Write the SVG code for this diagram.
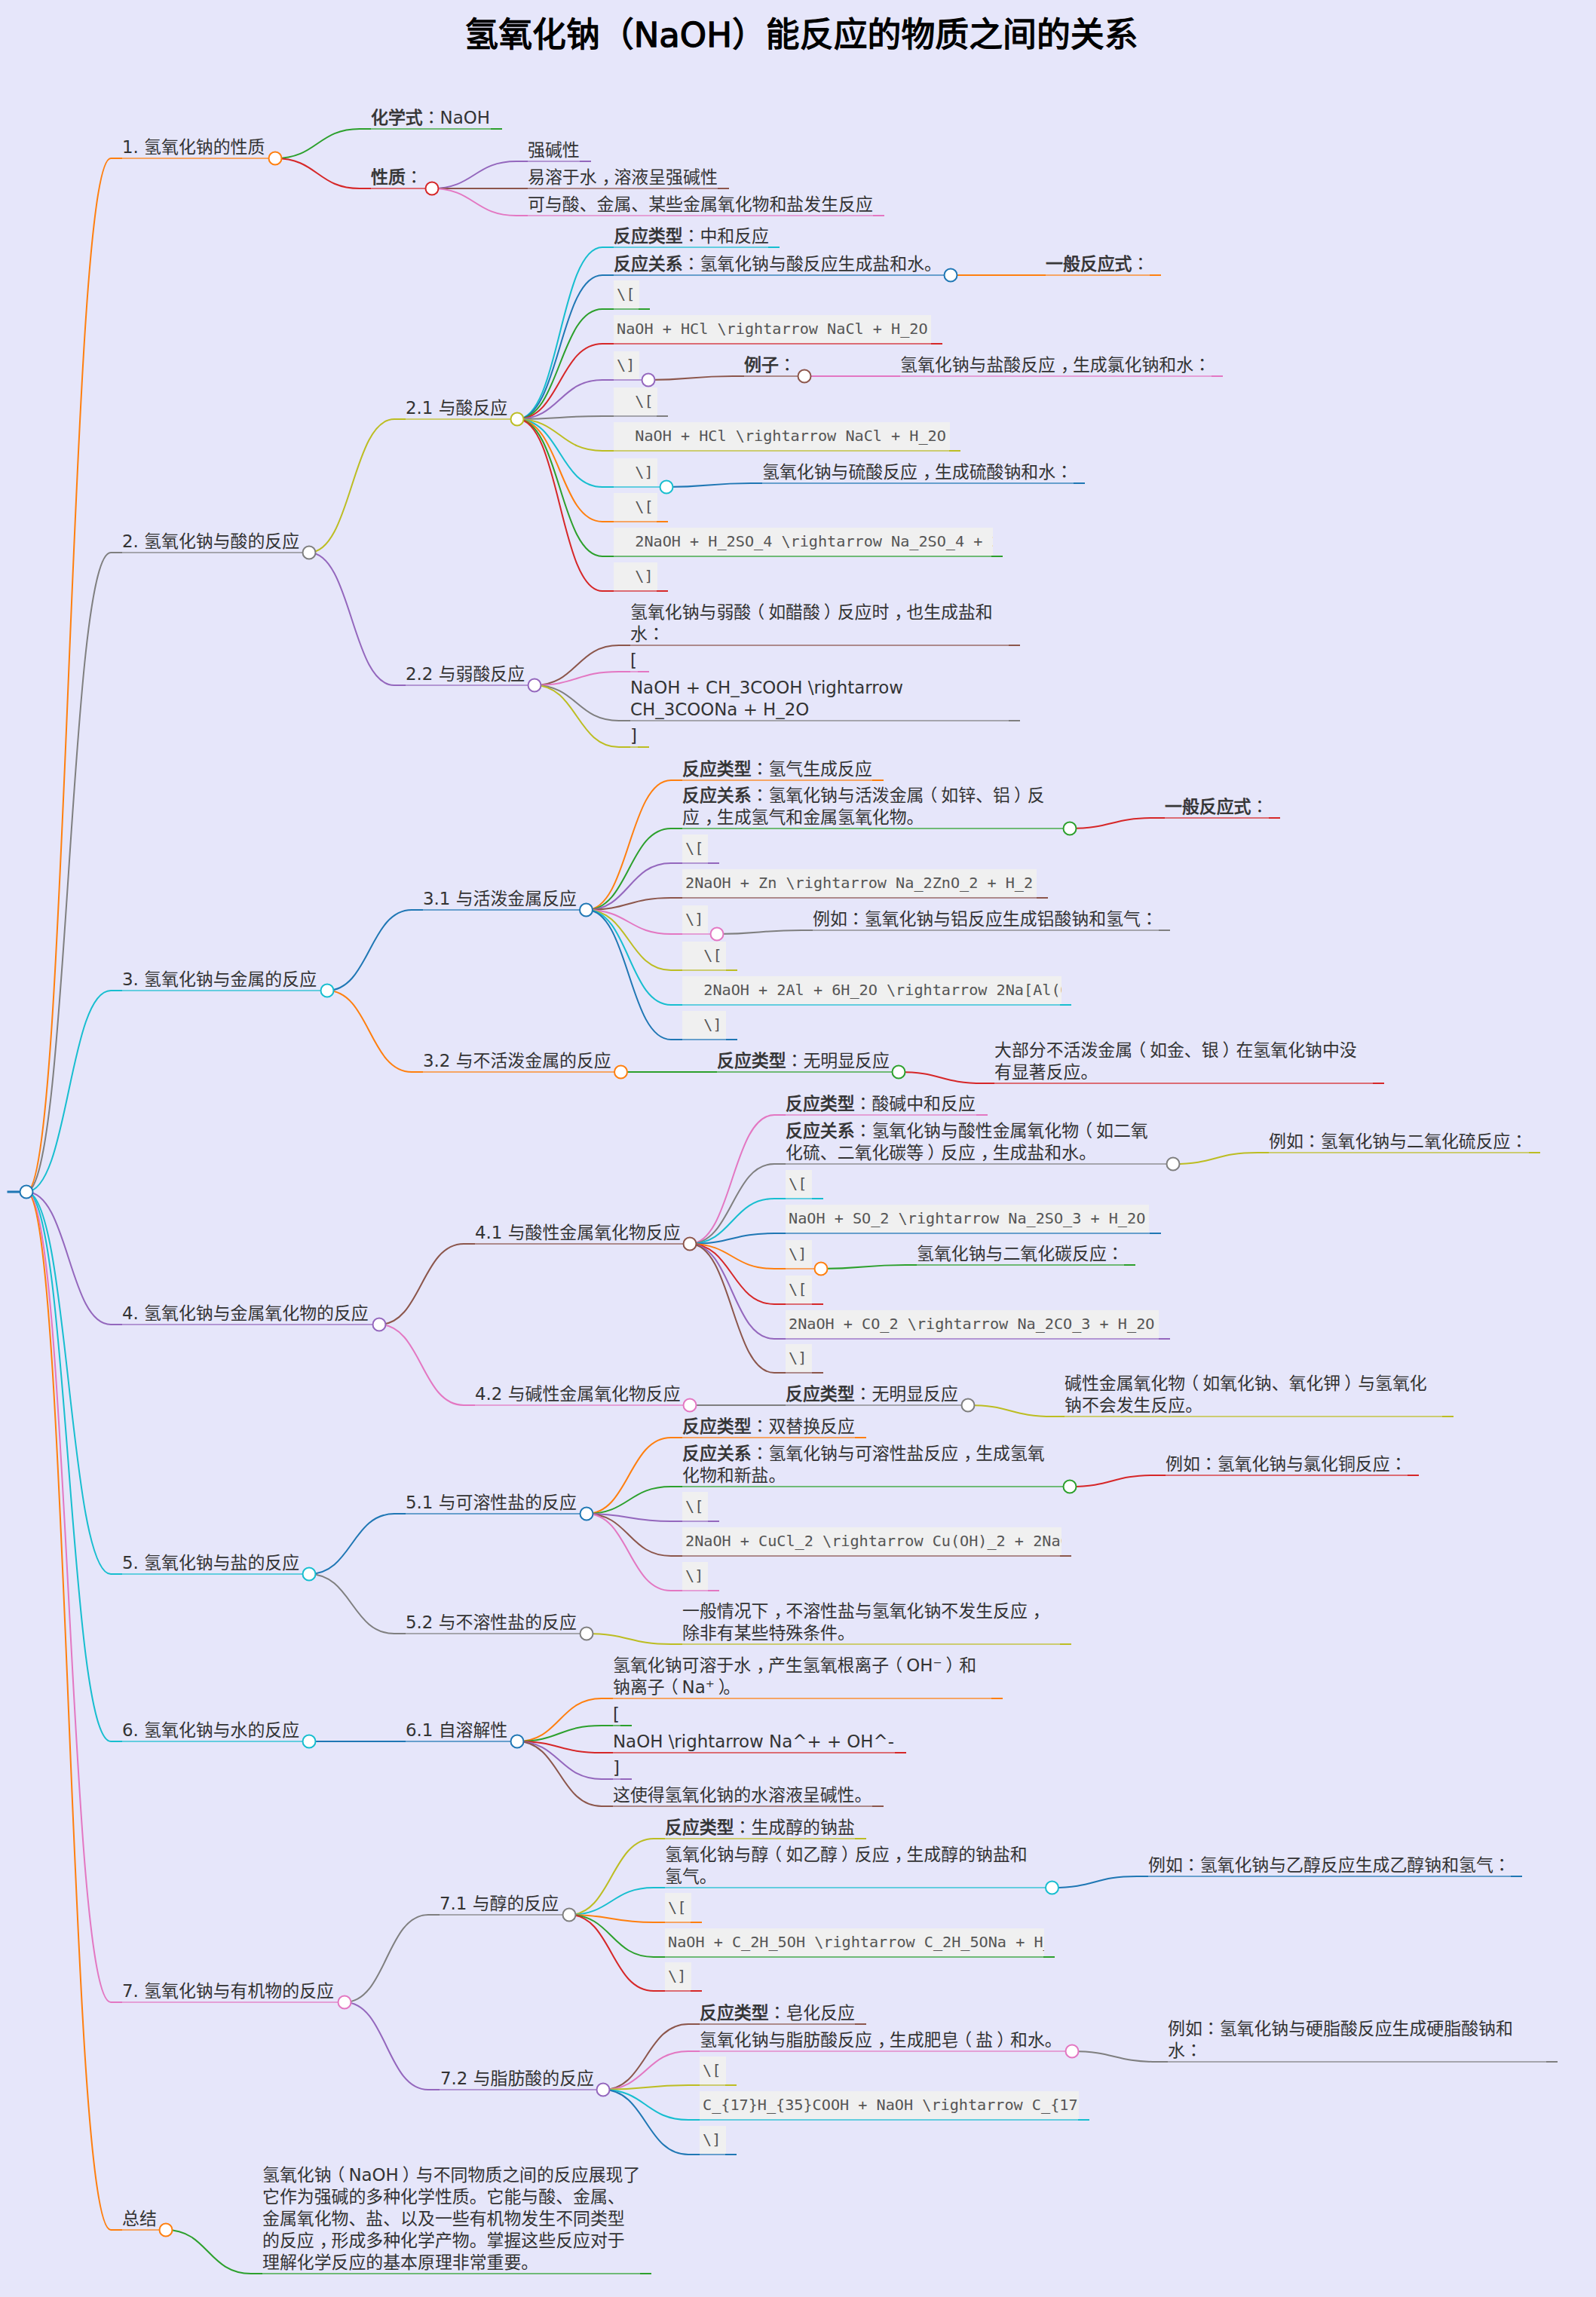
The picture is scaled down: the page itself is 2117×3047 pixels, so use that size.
<svg xmlns="http://www.w3.org/2000/svg" width="2117" height="3047" viewBox="0 0 2117 3047">
<style>
text{font-family:"DejaVu Sans","Noto Sans CJK SC",sans-serif;font-size:22.9px;fill:#333;white-space:pre}
.title{font-size:44.9px;fill:#000;stroke:#000;stroke-width:1.3px;text-anchor:middle}
.b{stroke:#333;stroke-width:.75px}
.p{font-family:"Noto Sans CJK TC",sans-serif}
text.code{font-family:"DejaVu Sans Mono","Noto Sans CJK SC",monospace;font-size:20.16px;fill:#555}
.box{fill:#f0f0f0}
path{fill:none;stroke-width:2}
.m{stroke-opacity:.85;stroke-width:1.6}
.dot{fill:#fff;stroke-width:2}
.c0{stroke:#1f77b4}.c1{stroke:#ff7f0e}.c2{stroke:#2ca02c}.c3{stroke:#d62728}.c4{stroke:#9467bd}.c5{stroke:#8c564b}.c6{stroke:#e377c2}.c7{stroke:#7f7f7f}.c8{stroke:#bcbd22}.c9{stroke:#17becf}
</style>
<defs>
<clipPath id="clip1"><rect x="814" y="700" width="503" height="38"/></clipPath>
<clipPath id="clip2"><rect x="905" y="1295" width="503" height="38"/></clipPath>
<clipPath id="clip3"><rect x="905" y="2026" width="503" height="38"/></clipPath>
<clipPath id="clip4"><rect x="882" y="2558" width="503" height="38"/></clipPath>
<clipPath id="clip5"><rect x="928" y="2774" width="503" height="38"/></clipPath>
</defs>
<rect width="2117" height="3047" fill="#e6e6fa"/>
<text class="title" x="1063" y="62">氢氧化钠（NaOH）能反应的物质之间的关系</text>

<g id="connectors">
<path class="c0" style="stroke-width:3" d="M9.5 1581H35"/>
<path class="c1" d="M35 1581C91 1581 91 210 147 210H162"/><path class="m c1" d="M162 210H365"/>
<path class="c7" d="M35 1581C91 1581 91 733 147 733H162"/><path class="m c7" d="M162 733H410"/>
<path class="c9" d="M35 1581C91 1581 91 1314 147 1314H162"/><path class="m c9" d="M162 1314H434"/>
<path class="c4" d="M35 1581C91 1581 91 1757 147 1757H162"/><path class="m c4" d="M162 1757H503"/>
<path class="c9" d="M35 1581C91 1581 91 2088 147 2088H162"/><path class="m c9" d="M162 2088H410"/>
<path class="c9" d="M35 1581C91 1581 91 2310 147 2310H162"/><path class="m c9" d="M162 2310H410"/>
<path class="c6" d="M35 1581C91 1581 91 2656 147 2656H162"/><path class="m c6" d="M162 2656H457"/>
<path class="c1" d="M35 1581C91 1581 91 2958 147 2958H162"/><path class="m c1" d="M162 2958H220"/>

<path class="c2" d="M365 210C421 210 421 171 477 171H492M651 171H666"/><path class="m c2" d="M492 171H651"/>
<path class="c3" d="M365 210C421 210 421 250 477 250H492"/><path class="m c3" d="M492 250H573"/>
<path class="c4" d="M573 250C629 250 629 214 685 214H700M769 214H784"/><path class="m c4" d="M700 214H769"/>
<path class="c5" d="M573 250C629 250 629 250 685 250H700M952 250H967"/><path class="m c5" d="M700 250H952"/>
<path class="c6" d="M573 250C629 250 629 286 685 286H700M1158 286H1173"/><path class="m c6" d="M700 286H1158"/>

<path class="c8" d="M410 733C466.5 733 466.5 556 523 556H538"/><path class="m c8" d="M538 556H686"/>
<path class="c4" d="M410 733C466.5 733 466.5 909 523 909H538"/><path class="m c4" d="M538 909H709"/>
<path class="c9" d="M686 556C742.5 556 742.5 328 799 328H814M1019 328H1034"/><path class="m c9" d="M814 328H1019"/>
<path class="c0" d="M686 556C742.5 556 742.5 365 799 365H814"/><path class="m c0" d="M814 365H1261"/>
<path class="c2" d="M686 556C742.5 556 742.5 410 799 410H814M847 410H862"/><path class="m c2" d="M814 410H847"/>
<path class="c3" d="M686 556C742.5 556 742.5 456 799 456H814M1235 456H1250"/><path class="m c3" d="M814 456H1235"/>
<path class="c4" d="M686 556C742.5 556 742.5 504 799 504H814"/><path class="m c4" d="M814 504H860"/>
<path class="c7" d="M686 556C742.5 556 742.5 552 799 552H814M871 552H886"/><path class="m c7" d="M814 552H871"/>
<path class="c8" d="M686 556C742.5 556 742.5 598 799 598H814M1259 598H1274"/><path class="m c8" d="M814 598H1259"/>
<path class="c9" d="M686 556C742.5 556 742.5 646 799 646H814"/><path class="m c9" d="M814 646H884"/>
<path class="c1" d="M686 556C742.5 556 742.5 692 799 692H814M871 692H886"/><path class="m c1" d="M814 692H871"/>
<path class="c2" d="M686 556C742.5 556 742.5 738 799 738H814M1315 738H1330"/><path class="m c2" d="M814 738H1315"/>
<path class="c3" d="M686 556C742.5 556 742.5 784 799 784H814M871 784H886"/><path class="m c3" d="M814 784H871"/>
<path class="c1" d="M1261 365H1387M1525 365H1540"/><path class="m c1" d="M1387 365H1525"/>
<path class="c5" d="M860 504C916 504 916 499 972 499H987"/><path class="m c5" d="M987 499H1067"/>
<path class="c6" d="M1067 499H1194M1607 499H1622"/><path class="m c6" d="M1194 499H1607"/>
<path class="c0" d="M884 646C940 646 940 641 996 641H1011M1424 641H1439"/><path class="m c0" d="M1011 641H1424"/>
<path class="c5" d="M709 909C765 909 765 856 821 856H836M1338 856H1353"/><path class="m c5" d="M836 856H1338"/>
<path class="c6" d="M709 909C765 909 765 891 821 891H836M846 891H861"/><path class="m c6" d="M836 891H846"/>
<path class="c7" d="M709 909C765 909 765 956 821 956H836M1338 956H1353"/><path class="m c7" d="M836 956H1338"/>
<path class="c8" d="M709 909C765 909 765 991 821 991H836M846 991H861"/><path class="m c8" d="M836 991H846"/>

<path class="c0" d="M434 1314C490 1314 490 1207 546 1207H561"/><path class="m c0" d="M561 1207H777.5"/>
<path class="c1" d="M434 1314C490 1314 490 1422 546 1422H561"/><path class="m c1" d="M561 1422H823.5"/>
<path class="c1" d="M778 1207C834 1207 834 1035 890 1035H905M1157 1035H1172"/><path class="m c1" d="M905 1035H1157"/>
<path class="c2" d="M778 1207C834 1207 834 1099 890 1099H905"/><path class="m c2" d="M905 1099H1419"/>
<path class="c4" d="M778 1207C834 1207 834 1145 890 1145H905M939 1145H954"/><path class="m c4" d="M905 1145H939"/>
<path class="c5" d="M778 1207C834 1207 834 1191 890 1191H905M1375 1191H1390"/><path class="m c5" d="M905 1191H1375"/>
<path class="c6" d="M778 1207C834 1207 834 1239 890 1239H905"/><path class="m c6" d="M905 1239H951"/>
<path class="c8" d="M778 1207C834 1207 834 1287 890 1287H905M963 1287H978"/><path class="m c8" d="M905 1287H963"/>
<path class="c9" d="M778 1207C834 1207 834 1333 890 1333H905M1406 1333H1421"/><path class="m c9" d="M905 1333H1406"/>
<path class="c0" d="M778 1207C834 1207 834 1379 890 1379H905M963 1379H978"/><path class="m c0" d="M905 1379H963"/>
<path class="c3" d="M1419 1099C1474.5 1099 1474.5 1085 1530 1085H1545M1683 1085H1698"/><path class="m c3" d="M1545 1085H1683"/>
<path class="c7" d="M951 1239C1007 1239 1007 1234 1063 1234H1078M1537 1234H1552"/><path class="m c7" d="M1078 1234H1537"/>
<path class="c2" d="M823.5 1422H951"/><path class="m c2" d="M951 1422H1192"/>
<path class="c3" d="M1192 1422C1248 1422 1248 1437 1304 1437H1319M1821 1437H1836"/><path class="m c3" d="M1319 1437H1821"/>

<path class="c5" d="M503 1757C559 1757 559 1650 615 1650H630"/><path class="m c5" d="M630 1650H915"/>
<path class="c6" d="M503 1757C559 1757 559 1864 615 1864H630"/><path class="m c6" d="M630 1864H915"/>
<path class="c6" d="M915 1650C971 1650 971 1479 1027 1479H1042M1295 1479H1310"/><path class="m c6" d="M1042 1479H1295"/>
<path class="c7" d="M915 1650C971 1650 971 1544 1027 1544H1042"/><path class="m c7" d="M1042 1544H1556"/>
<path class="c9" d="M915 1650C971 1650 971 1590 1027 1590H1042M1077 1590H1092"/><path class="m c9" d="M1042 1590H1077"/>
<path class="c0" d="M915 1650C971 1650 971 1636 1027 1636H1042M1525 1636H1540"/><path class="m c0" d="M1042 1636H1525"/>
<path class="c1" d="M915 1650C971 1650 971 1683 1027 1683H1042"/><path class="m c1" d="M1042 1683H1089"/>
<path class="c3" d="M915 1650C971 1650 971 1730 1027 1730H1042M1077 1730H1092"/><path class="m c3" d="M1042 1730H1077"/>
<path class="c4" d="M915 1650C971 1650 971 1776 1027 1776H1042M1537 1776H1552"/><path class="m c4" d="M1042 1776H1537"/>
<path class="c5" d="M915 1650C971 1650 971 1821 1027 1821H1042M1077 1821H1092"/><path class="m c5" d="M1042 1821H1077"/>
<path class="c8" d="M1556 1544C1612 1544 1612 1529 1668 1529H1683M2028 1529H2043"/><path class="m c8" d="M1683 1529H2028"/>
<path class="c2" d="M1089 1683C1145 1683 1145 1678 1201 1678H1216M1491 1678H1506"/><path class="m c2" d="M1216 1678H1491"/>
<path class="c7" d="M915 1864H1042"/><path class="m c7" d="M1042 1864H1284"/>
<path class="c8" d="M1284 1864C1340.5 1864 1340.5 1879 1397 1879H1412M1913 1879H1928"/><path class="m c8" d="M1412 1879H1913"/>

<path class="c0" d="M410 2088C466.5 2088 466.5 2008 523 2008H538"/><path class="m c0" d="M538 2008H778"/>
<path class="c7" d="M410 2088C466.5 2088 466.5 2167 523 2167H538"/><path class="m c7" d="M538 2167H778"/>
<path class="c1" d="M778 2008C834 2008 834 1907 890 1907H905M1134 1907H1149"/><path class="m c1" d="M905 1907H1134"/>
<path class="c2" d="M778 2008C834 2008 834 1972 890 1972H905"/><path class="m c2" d="M905 1972H1419"/>
<path class="c4" d="M778 2008C834 2008 834 2018 890 2018H905M939 2018H954"/><path class="m c4" d="M905 2018H939"/>
<path class="c5" d="M778 2008C834 2008 834 2064 890 2064H905M1406 2064H1421"/><path class="m c5" d="M905 2064H1406"/>
<path class="c6" d="M778 2008C834 2008 834 2110 890 2110H905M939 2110H954"/><path class="m c6" d="M905 2110H939"/>
<path class="c3" d="M1419 1972C1475 1972 1475 1957 1531 1957H1546M1867 1957H1882"/><path class="m c3" d="M1546 1957H1867"/>
<path class="c8" d="M778 2167C834 2167 834 2181 890 2181H905M1406 2181H1421"/><path class="m c8" d="M905 2181H1406"/>

<path class="c0" d="M410 2310H538"/><path class="m c0" d="M538 2310H686"/>
<path class="c1" d="M686 2310C742 2310 742 2253 798 2253H813M1315 2253H1330"/><path class="m c1" d="M813 2253H1315"/>
<path class="c2" d="M686 2310C742 2310 742 2289 798 2289H813M823 2289H838"/><path class="m c2" d="M813 2289H823"/>
<path class="c3" d="M686 2310C742 2310 742 2325 798 2325H813M1187 2325H1202"/><path class="m c3" d="M813 2325H1187"/>
<path class="c4" d="M686 2310C742 2310 742 2360 798 2360H813M823 2360H838"/><path class="m c4" d="M813 2360H823"/>
<path class="c5" d="M686 2310C742 2310 742 2396 798 2396H813M1157 2396H1172"/><path class="m c5" d="M813 2396H1157"/>

<path class="c7" d="M457 2656C512.5 2656 512.5 2540 568 2540H583"/><path class="m c7" d="M583 2540H755"/>
<path class="c4" d="M457 2656C512.5 2656 512.5 2772 568 2772H583"/><path class="m c4" d="M583 2772H800"/>
<path class="c8" d="M755 2540C811 2540 811 2439 867 2439H882M1134 2439H1149"/><path class="m c8" d="M882 2439H1134"/>
<path class="c9" d="M755 2540C811 2540 811 2504 867 2504H882"/><path class="m c9" d="M882 2504H1395.5"/>
<path class="c1" d="M755 2540C811 2540 811 2550 867 2550H882M916 2550H931"/><path class="m c1" d="M882 2550H916"/>
<path class="c2" d="M755 2540C811 2540 811 2596 867 2596H882M1384 2596H1399"/><path class="m c2" d="M882 2596H1384"/>
<path class="c3" d="M755 2540C811 2540 811 2641 867 2641H882M916 2641H931"/><path class="m c3" d="M882 2641H916"/>
<path class="c0" d="M1395.5 2504C1452 2504 1452 2489 1508 2489H1523M2004 2489H2019"/><path class="m c0" d="M1523 2489H2004"/>
<path class="c5" d="M800 2772C856.5 2772 856.5 2685 913 2685H928M1134 2685H1149"/><path class="m c5" d="M928 2685H1134"/>
<path class="c6" d="M800 2772C856.5 2772 856.5 2721 913 2721H928"/><path class="m c6" d="M928 2721H1422"/>
<path class="c8" d="M800 2772C856.5 2772 856.5 2766 913 2766H928M962 2766H977"/><path class="m c8" d="M928 2766H962"/>
<path class="c9" d="M800 2772C856.5 2772 856.5 2812 913 2812H928M1430 2812H1445"/><path class="m c9" d="M928 2812H1430"/>
<path class="c0" d="M800 2772C856.5 2772 856.5 2858 913 2858H928M962 2858H977"/><path class="m c0" d="M928 2858H962"/>
<path class="c7" d="M1422 2721C1478 2721 1478 2735 1534 2735H1549M2051 2735H2066"/><path class="m c7" d="M1549 2735H2051"/>
<path class="c2" d="M220 2958C276 2958 276 3016 333 3016H348M849 3016H864"/><path class="m c2" d="M348 3016H849"/>
</g>

<g id="root"><circle class="dot c0" cx="35" cy="1581" r="8.5"/></g>

<g id="n1"><text x="162" y="202.5">1. 氢氧化钠的性质</text><circle class="dot c1" cx="365" cy="210" r="8.5"/></g>
<g id="n1-1"><text x="492" y="163.5"><tspan class="b">化学式</tspan><tspan class="p">：</tspan>NaOH</text></g>
<g id="n1-2"><text x="492" y="242.5"><tspan class="b">性质</tspan><tspan class="p">：</tspan></text><circle class="dot c3" cx="573" cy="250" r="8.5"/></g>
<g id="n1-2-1"><text x="700" y="206.5">强碱性</text></g>
<g id="n1-2-2"><text x="700" y="242.5">易溶于水<tspan dx="7 -7">，溶</tspan>液呈强碱性</text></g>
<g id="n1-2-3"><text x="700" y="278.5">可与酸、金属、某些金属氧化物和盐发生反应</text></g>

<g id="n2"><text x="162" y="725.5">2. 氢氧化钠与酸的反应</text><circle class="dot c7" cx="410" cy="733" r="8.5"/></g>
<g id="n2-1"><text x="538" y="548.5">2.1 与酸反应</text><circle class="dot c8" cx="686" cy="556" r="8.5"/></g>
<g id="n2-1-1"><text x="814" y="320.5"><tspan class="b">反应类型</tspan><tspan class="p">：</tspan>中和反应</text></g>
<g id="n2-1-2"><text x="814" y="357.5"><tspan class="b">反应关系</tspan><tspan class="p">：</tspan>氢氧化钠与酸反应生成盐和水。</text><circle class="dot c0" cx="1261" cy="365" r="8.5"/></g>
<g id="n2-1-2-1"><text x="1387" y="357.5"><tspan class="b">一般反应式</tspan><tspan class="p">：</tspan></text></g>
<g id="n2-1-3"><rect class="box" x="814" y="372" width="34" height="37"/><text class="code" x="818" y="396.5">\[</text></g>
<g id="n2-1-4"><rect class="box" x="814" y="418" width="421" height="37"/><text class="code" x="818" y="442.5">NaOH + HCl \rightarrow NaCl + H_2O</text></g>
<g id="n2-1-5"><rect class="box" x="814" y="466" width="34" height="37"/><text class="code" x="818" y="490.5">\]</text><circle class="dot c4" cx="860" cy="504" r="8.5"/></g>
<g id="n2-1-5-1"><text x="987" y="491.5"><tspan class="b">例子</tspan><tspan class="p">：</tspan></text><circle class="dot c5" cx="1067" cy="499" r="8.5"/></g>
<g id="n2-1-5-1-1"><text x="1194" y="491.5">氢氧化钠与盐酸反应<tspan dx="7 -7">，生</tspan>成氯化钠和水<tspan class="p">：</tspan></text></g>
<g id="n2-1-6"><rect class="box" x="814" y="514" width="58" height="37"/><text class="code" x="818" y="538.5">  \[</text></g>
<g id="n2-1-7"><rect class="box" x="814" y="560" width="446" height="37"/><text class="code" x="818" y="584.5">  NaOH + HCl \rightarrow NaCl + H_2O</text></g>
<g id="n2-1-8"><rect class="box" x="814" y="608" width="58" height="37"/><text class="code" x="818" y="632.5">  \]</text><circle class="dot c9" cx="884" cy="646" r="8.5"/></g>
<g id="n2-1-8-1"><text x="1011" y="633.5">氢氧化钠与硫酸反应<tspan dx="7 -7">，生</tspan>成硫酸钠和水<tspan class="p">：</tspan></text></g>
<g id="n2-1-9"><rect class="box" x="814" y="654" width="58" height="37"/><text class="code" x="818" y="678.5">  \[</text></g>
<g id="n2-1-10"><rect class="box" x="814" y="700" width="503" height="37"/><text class="code" x="818" y="724.5" clip-path="url(#clip1)">  2NaOH + H_2SO_4 \rightarrow Na_2SO_4 + 2</text></g>
<g id="n2-1-11"><rect class="box" x="814" y="746" width="58" height="37"/><text class="code" x="818" y="770.5">  \]</text></g>
<g id="n2-2"><text x="538" y="901.5">2.2 与弱酸反应</text><circle class="dot c4" cx="709" cy="909" r="8.5"/></g>
<g id="n2-2-1"><text x="836" y="819.6">氢氧化钠与弱酸<tspan dx="-5 5">（如</tspan>醋酸<tspan dx="5 -5">）反</tspan>应时<tspan dx="7 -7">，也</tspan>生成盐和<tspan x="836" dy="28.9">水<tspan class="p">：</tspan></tspan></text></g>
<g id="n2-2-2"><text x="836" y="883.5">[</text></g>
<g id="n2-2-3"><text x="836" y="919.6">NaOH + CH_3COOH \rightarrow<tspan x="836" dy="28.9">CH_3COONa + H_2O</tspan></text></g>
<g id="n2-2-4"><text x="836" y="983.5">]</text></g>

<g id="n3"><text x="162" y="1306.5">3. 氢氧化钠与金属的反应</text><circle class="dot c9" cx="434" cy="1314" r="8.5"/></g>
<g id="n3-1"><text x="561" y="1199.5">3.1 与活泼金属反应</text><circle class="dot c0" cx="777.5" cy="1207" r="8.5"/></g>
<g id="n3-1-1"><text x="905" y="1027.5"><tspan class="b">反应类型</tspan><tspan class="p">：</tspan>氢气生成反应</text></g>
<g id="n3-1-2"><text x="905" y="1062.6"><tspan class="b">反应关系</tspan><tspan class="p">：</tspan>氢氧化钠与活泼金属<tspan dx="-5 5">（如</tspan>锌、铝<tspan dx="5 -5">）反</tspan><tspan x="905" dy="28.9">应<tspan dx="7 -7">，生</tspan>成氢气和金属氢氧化物。</tspan></text><circle class="dot c2" cx="1419" cy="1099" r="8.5"/></g>
<g id="n3-1-2-1"><text x="1545" y="1077.5"><tspan class="b">一般反应式</tspan><tspan class="p">：</tspan></text></g>
<g id="n3-1-3"><rect class="box" x="905" y="1107" width="34" height="37"/><text class="code" x="909" y="1131.5">\[</text></g>
<g id="n3-1-4"><rect class="box" x="905" y="1153" width="470" height="37"/><text class="code" x="909" y="1177.5">2NaOH + Zn \rightarrow Na_2ZnO_2 + H_2</text></g>
<g id="n3-1-5"><rect class="box" x="905" y="1201" width="34" height="37"/><text class="code" x="909" y="1225.5">\]</text><circle class="dot c6" cx="951" cy="1239" r="8.5"/></g>
<g id="n3-1-5-1"><text x="1078" y="1226.5">例如<tspan class="p">：</tspan>氢氧化钠与铝反应生成铝酸钠和氢气<tspan class="p">：</tspan></text></g>
<g id="n3-1-6"><rect class="box" x="905" y="1249" width="58" height="37"/><text class="code" x="909" y="1273.5">  \[</text></g>
<g id="n3-1-7"><rect class="box" x="905" y="1295" width="503" height="37"/><text class="code" x="909" y="1319.5" clip-path="url(#clip2)">  2NaOH + 2Al + 6H_2O \rightarrow 2Na[Al(O</text></g>
<g id="n3-1-8"><rect class="box" x="905" y="1341" width="58" height="37"/><text class="code" x="909" y="1365.5">  \]</text></g>
<g id="n3-2"><text x="561" y="1414.5">3.2 与不活泼金属的反应</text><circle class="dot c1" cx="823.5" cy="1422" r="8.5"/></g>
<g id="n3-2-1"><text x="951" y="1414.5"><tspan class="b">反应类型</tspan><tspan class="p">：</tspan>无明显反应</text><circle class="dot c2" cx="1192" cy="1422" r="8.5"/></g>
<g id="n3-2-1-1"><text x="1319" y="1400.6">大部分不活泼金属<tspan dx="-5 5">（如</tspan>金、银<tspan dx="5 -5">）在</tspan>氢氧化钠中没<tspan x="1319" dy="28.9">有显著反应。</tspan></text></g>

<g id="n4"><text x="162" y="1749.5">4. 氢氧化钠与金属氧化物的反应</text><circle class="dot c4" cx="503" cy="1757" r="8.5"/></g>
<g id="n4-1"><text x="630" y="1642.5">4.1 与酸性金属氧化物反应</text><circle class="dot c5" cx="915" cy="1650" r="8.5"/></g>
<g id="n4-1-1"><text x="1042" y="1471.5"><tspan class="b">反应类型</tspan><tspan class="p">：</tspan>酸碱中和反应</text></g>
<g id="n4-1-2"><text x="1042" y="1507.6"><tspan class="b">反应关系</tspan><tspan class="p">：</tspan>氢氧化钠与酸性金属氧化物<tspan dx="-5 5">（如</tspan>二氧<tspan x="1042" dy="28.9">化硫、二氧化碳等<tspan dx="5 -5">）反</tspan>应<tspan dx="7 -7">，生</tspan>成盐和水。</tspan></text><circle class="dot c7" cx="1556" cy="1544" r="8.5"/></g>
<g id="n4-1-2-1"><text x="1683" y="1521.5">例如<tspan class="p">：</tspan>氢氧化钠与二氧化硫反应<tspan class="p">：</tspan></text></g>
<g id="n4-1-3"><rect class="box" x="1042" y="1552" width="35" height="37"/><text class="code" x="1046" y="1576.5">\[</text></g>
<g id="n4-1-4"><rect class="box" x="1042" y="1598" width="482" height="37"/><text class="code" x="1046" y="1622.5">NaOH + SO_2 \rightarrow Na_2SO_3 + H_2O</text></g>
<g id="n4-1-5"><rect class="box" x="1042" y="1645" width="35" height="37"/><text class="code" x="1046" y="1669.5">\]</text><circle class="dot c1" cx="1089" cy="1683" r="8.5"/></g>
<g id="n4-1-5-1"><text x="1216" y="1670.5">氢氧化钠与二氧化碳反应<tspan class="p">：</tspan></text></g>
<g id="n4-1-6"><rect class="box" x="1042" y="1692" width="35" height="37"/><text class="code" x="1046" y="1716.5">\[</text></g>
<g id="n4-1-7"><rect class="box" x="1042" y="1738" width="495" height="37"/><text class="code" x="1046" y="1762.5">2NaOH + CO_2 \rightarrow Na_2CO_3 + H_2O</text></g>
<g id="n4-1-8"><rect class="box" x="1042" y="1783" width="35" height="37"/><text class="code" x="1046" y="1807.5">\]</text></g>
<g id="n4-2"><text x="630" y="1856.5">4.2 与碱性金属氧化物反应</text><circle class="dot c6" cx="915" cy="1864" r="8.5"/></g>
<g id="n4-2-1"><text x="1042" y="1856.5"><tspan class="b">反应类型</tspan><tspan class="p">：</tspan>无明显反应</text><circle class="dot c7" cx="1284" cy="1864" r="8.5"/></g>
<g id="n4-2-1-1"><text x="1412" y="1842.6">碱性金属氧化物<tspan dx="-5 5">（如</tspan>氧化钠、氧化钾<tspan dx="5 -5">）与</tspan>氢氧化<tspan x="1412" dy="28.9">钠不会发生反应。</tspan></text></g>

<g id="n5"><text x="162" y="2080.5">5. 氢氧化钠与盐的反应</text><circle class="dot c9" cx="410" cy="2088" r="8.5"/></g>
<g id="n5-1"><text x="538" y="2000.5">5.1 与可溶性盐的反应</text><circle class="dot c0" cx="778" cy="2008" r="8.5"/></g>
<g id="n5-1-1"><text x="905" y="1899.5"><tspan class="b">反应类型</tspan><tspan class="p">：</tspan>双替换反应</text></g>
<g id="n5-1-2"><text x="905" y="1935.6"><tspan class="b">反应关系</tspan><tspan class="p">：</tspan>氢氧化钠与可溶性盐反应<tspan dx="7 -7">，生</tspan>成氢氧<tspan x="905" dy="28.9">化物和新盐。</tspan></text><circle class="dot c2" cx="1419" cy="1972" r="8.5"/></g>
<g id="n5-1-2-1"><text x="1546" y="1949.5">例如<tspan class="p">：</tspan>氢氧化钠与氯化铜反应<tspan class="p">：</tspan></text></g>
<g id="n5-1-3"><rect class="box" x="905" y="1979" width="34" height="38"/><text class="code" x="909" y="2004.5">\[</text></g>
<g id="n5-1-4"><rect class="box" x="905" y="2026" width="503" height="37"/><text class="code" x="909" y="2050.5" clip-path="url(#clip3)">2NaOH + CuCl_2 \rightarrow Cu(OH)_2 + 2NaC</text></g>
<g id="n5-1-5"><rect class="box" x="905" y="2072" width="34" height="37"/><text class="code" x="909" y="2096.5">\]</text></g>
<g id="n5-2"><text x="538" y="2159.5">5.2 与不溶性盐的反应</text><circle class="dot c7" cx="778" cy="2167" r="8.5"/></g>
<g id="n5-2-1"><text x="905" y="2144.6">一般情况下<tspan dx="7 -7">，不</tspan>溶性盐与氢氧化钠不发生反应<tspan dx="7">，</tspan><tspan x="905" dy="28.9">除非有某些特殊条件。</tspan></text></g>

<g id="n6"><text x="162" y="2302.5">6. 氢氧化钠与水的反应</text><circle class="dot c9" cx="410" cy="2310" r="8.5"/></g>
<g id="n6-1"><text x="538" y="2302.5">6.1 自溶解性</text><circle class="dot c0" cx="686" cy="2310" r="8.5"/></g>
<g id="n6-1-1"><text x="813" y="2216.6">氢氧化钠可溶于水<tspan dx="7 -7">，产</tspan>生氢氧根离子<tspan dx="-5 5">（O</tspan>H⁻<tspan dx="5 -5">）和</tspan><tspan x="813" dy="28.9">钠离子<tspan dx="-5 5">（N</tspan>a⁺<tspan dx="5 -5">）。</tspan></tspan></text></g>
<g id="n6-1-2"><text x="813" y="2281.5">[</text></g>
<g id="n6-1-3"><text x="813" y="2317.5">NaOH \rightarrow Na^+ + OH^-</text></g>
<g id="n6-1-4"><text x="813" y="2352.5">]</text></g>
<g id="n6-1-5"><text x="813" y="2388.5">这使得氢氧化钠的水溶液呈碱性。</text></g>

<g id="n7"><text x="162" y="2648.5">7. 氢氧化钠与有机物的反应</text><circle class="dot c6" cx="457" cy="2656" r="8.5"/></g>
<g id="n7-1"><text x="583" y="2532.5">7.1 与醇的反应</text><circle class="dot c7" cx="755" cy="2540" r="8.5"/></g>
<g id="n7-1-1"><text x="882" y="2431.5"><tspan class="b">反应类型</tspan><tspan class="p">：</tspan>生成醇的钠盐</text></g>
<g id="n7-1-2"><text x="882" y="2467.6">氢氧化钠与醇<tspan dx="-5 5">（如</tspan>乙醇<tspan dx="5 -5">）反</tspan>应<tspan dx="7 -7">，生</tspan>成醇的钠盐和<tspan x="882" dy="28.9">氢气。</tspan></text><circle class="dot c9" cx="1395.5" cy="2504" r="8.5"/></g>
<g id="n7-1-2-1"><text x="1523" y="2481.5">例如<tspan class="p">：</tspan>氢氧化钠与乙醇反应生成乙醇钠和氢气<tspan class="p">：</tspan></text></g>
<g id="n7-1-3"><rect class="box" x="882" y="2511" width="35" height="38"/><text class="code" x="886" y="2536.5">\[</text></g>
<g id="n7-1-4"><rect class="box" x="882" y="2558" width="503" height="37"/><text class="code" x="886" y="2582.5" clip-path="url(#clip4)">NaOH + C_2H_5OH \rightarrow C_2H_5ONa + H_</text></g>
<g id="n7-1-5"><rect class="box" x="882" y="2603" width="35" height="37"/><text class="code" x="886" y="2627.5">\]</text></g>
<g id="n7-2"><text x="584" y="2764.5">7.2 与脂肪酸的反应</text><circle class="dot c4" cx="800" cy="2772" r="8.5"/></g>
<g id="n7-2-1"><text x="928" y="2677.5"><tspan class="b">反应类型</tspan><tspan class="p">：</tspan>皂化反应</text></g>
<g id="n7-2-2"><text x="928" y="2713.5">氢氧化钠与脂肪酸反应<tspan dx="7 -7">，生</tspan>成肥皂<tspan dx="-5 5">（盐</tspan><tspan dx="5 -5">）和</tspan>水。</text><circle class="dot c6" cx="1422" cy="2721" r="8.5"/></g>
<g id="n7-2-2-1"><text x="1549" y="2698.6">例如<tspan class="p">：</tspan>氢氧化钠与硬脂酸反应生成硬脂酸钠和<tspan x="1549" dy="28.9">水<tspan class="p">：</tspan></tspan></text></g>
<g id="n7-2-3"><rect class="box" x="928" y="2728" width="35" height="37"/><text class="code" x="932" y="2752.5">\[</text></g>
<g id="n7-2-4"><rect class="box" x="928" y="2774" width="503" height="37"/><text class="code" x="932" y="2798.5" clip-path="url(#clip5)">C_{17}H_{35}COOH + NaOH \rightarrow C_{17}</text></g>
<g id="n7-2-5"><rect class="box" x="928" y="2820" width="35" height="37"/><text class="code" x="932" y="2844.5">\]</text></g>

<g id="n8"><text x="162" y="2950.5">总结</text><circle class="dot c1" cx="220" cy="2958" r="8.5"/></g>
<g id="n8-1"><text x="348" y="2892.9">氢氧化钠<tspan dx="-5 5">（N</tspan>aOH<tspan dx="5 -5">）与</tspan>不同物质之间的反应展现了<tspan x="348" dy="28.9">它作为强碱的多种化学性质。它能与酸、金属、</tspan><tspan x="348" dy="28.9">金属氧化物、盐、以及一些有机物发生不同类型</tspan><tspan x="348" dy="28.9">的反应<tspan dx="7 -7">，形</tspan>成多种化学产物。掌握这些反应对于</tspan><tspan x="348" dy="28.9">理解化学反应的基本原理非常重要。</tspan></text></g>
</svg>
